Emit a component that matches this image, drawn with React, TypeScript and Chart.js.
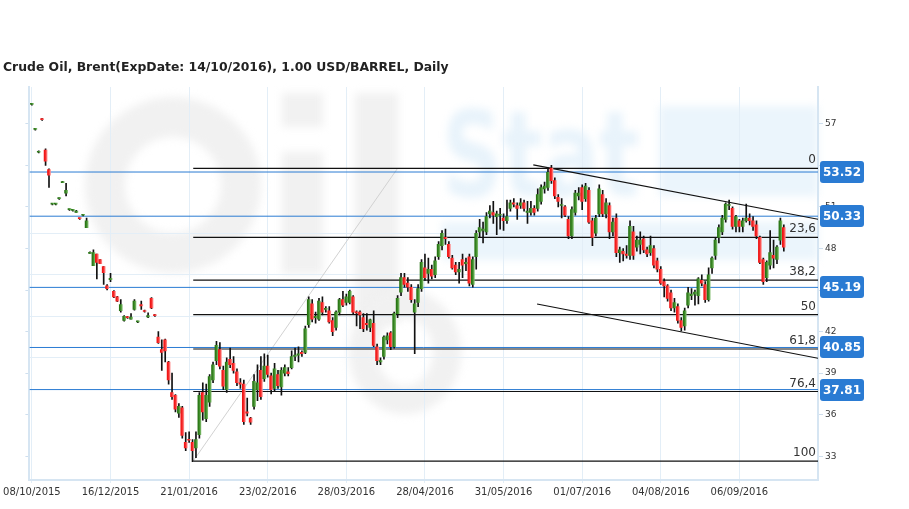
import React, { useEffect, useRef } from "react";
import { Chart, registerables } from "chart.js";

Chart.register(...registerables);

// ---- data ----
const chartTitle = "Crude Oil, Brent(ExpDate: 14/10/2016), 1.00 USD/BARREL, Daily";

const dateTickIndex = [0, 23, 46, 69, 92, 115, 138, 161, 184, 207];
const dateTickLabels = [
  "08/10/2015", "16/12/2015", "21/01/2016", "23/02/2016", "28/03/2016",
  "28/04/2016", "31/05/2016", "01/07/2016", "04/08/2016", "06/09/2016",
];

const priceTicks = [33, 36, 39, 42, 45, 48, 51, 54, 57];
const faintGridLevels = [40.1, 43.07, 46.1, 49.07];

const markedLevels = [53.52, 50.33, 45.19, 40.85, 37.81];

const fibLabels = ["0", "23,6", "38,2", "50", "61,8", "76,4", "100"];
const fibPrices = [53.79, 48.8, 45.71, 43.22, 40.74, 37.67, 32.65];
const fibStartIndex = 47.2;

const fibDiagonal = [
  { x: 47.2, y: 32.65 },
  { x: 107, y: 53.79 },
];
const upperTrend = [
  { x: 146.7, y: 54.03 },
  { x: 230, y: 50.11 },
];
const lowerTrend = [
  { x: 147.8, y: 43.99 },
  { x: 230, y: 40.07 },
];

// open, high, low, close
const candles: [number, number, number, number][] = [
  [58.4, 58.45, 58.35, 58.4],
  [56.6, 56.65, 56.55, 56.6],
  [54.95, 55.05, 54.9, 55.0],
  [57.35, 57.4, 57.25, 57.3],
  [55.1, 55.2, 54.0, 54.3],
  [53.7, 53.75, 52.4, 53.3],
  [51.2, 51.25, 51.15, 51.2],
  [51.2, 51.25, 51.15, 51.2],
  [51.6, 51.65, 51.55, 51.6],
  [52.75, 52.85, 52.75, 52.8],
  [52.0, 52.7, 51.8, 52.2],
  [50.8, 50.85, 50.75, 50.8],
  [50.75, 50.8, 50.7, 50.75],
  [50.6, 50.75, 50.6, 50.7],
  [50.2, 50.2, 50.1, 50.15],
  [50.4, 50.45, 50.35, 50.4],
  [49.5, 50.2, 49.5, 50.0],
  [47.65, 47.75, 47.65, 47.7],
  [46.75, 47.9, 46.75, 47.7],
  [47.6, 47.6, 45.8, 47.0],
  [47.2, 47.2, 46.9, 46.9],
  [46.7, 46.7, 45.4, 46.25],
  [45.3, 45.4, 45.0, 45.1],
  [45.75, 46.2, 45.6, 45.85],
  [44.9, 44.95, 44.45, 44.5],
  [44.5, 44.55, 44.15, 44.2],
  [43.5, 44.3, 43.4, 43.95],
  [42.8, 43.15, 42.75, 43.1],
  [43.05, 43.1, 42.95, 43.0],
  [42.9, 43.3, 42.9, 43.05],
  [43.6, 44.3, 43.55, 44.2],
  [42.7, 42.75, 42.65, 42.7],
  [43.95, 44.2, 43.6, 43.85],
  [43.5, 43.55, 43.4, 43.45],
  [43.05, 43.35, 43.0, 43.15],
  [44.4, 44.45, 43.65, 43.7],
  [43.2, 43.25, 43.1, 43.15],
  [41.6, 42.0, 41.15, 41.2],
  [40.7, 41.4, 39.2, 40.5],
  [41.4, 41.45, 39.8, 40.6],
  [39.8, 39.85, 38.2, 38.5],
  [37.6, 39.0, 37.1, 37.3],
  [37.4, 37.45, 36.2, 36.4],
  [36.1, 36.8, 35.8, 36.6],
  [36.5, 36.6, 34.3, 34.5],
  [34.0, 34.7, 33.4, 33.6],
  [34.2, 34.75, 34.0, 34.15],
  [34.0, 34.2, 32.6, 33.4],
  [33.6, 34.75, 32.9, 34.2],
  [34.55, 37.6, 34.3, 37.4],
  [37.6, 38.3, 35.6, 36.2],
  [35.7, 38.2, 35.5, 37.4],
  [36.9, 38.9, 36.6, 38.75],
  [38.5, 39.8, 38.3, 39.6],
  [39.9, 41.3, 39.6, 41.0],
  [40.7, 41.2, 39.3, 39.5],
  [39.2, 39.5, 37.8, 38.05],
  [37.8, 40.1, 37.6, 39.8],
  [40.0, 40.8, 39.4, 39.6],
  [39.7, 40.2, 39.0, 39.2],
  [39.1, 39.3, 38.1, 38.3],
  [38.3, 38.6, 37.9, 38.2],
  [38.2, 38.5, 35.3, 35.5],
  [36.2, 37.2, 35.9, 36.1],
  [35.75, 35.8, 35.3, 35.45],
  [36.6, 38.9, 36.4, 38.4],
  [37.8, 39.6, 37.0, 38.3],
  [39.2, 40.2, 37.1, 37.3],
  [38.6, 40.4, 38.4, 39.5],
  [39.5, 40.3, 38.7, 38.9],
  [38.8, 39.0, 37.5, 37.8],
  [37.9, 39.7, 37.7, 39.3],
  [38.9, 39.2, 37.9, 38.1],
  [38.0, 39.4, 37.4, 39.2],
  [39.0, 39.6, 38.8, 39.4],
  [39.1, 39.4, 38.8, 38.95],
  [39.4, 40.6, 39.3, 40.2],
  [40.2, 40.8, 39.9, 40.3],
  [40.3, 40.9, 39.8, 40.4],
  [40.5, 40.6, 40.2, 40.4],
  [40.5, 42.4, 40.4, 42.2],
  [42.5, 44.5, 42.3, 44.3],
  [44.0, 44.3, 42.7, 42.9],
  [43.0, 43.4, 42.6, 43.1],
  [42.9, 44.4, 42.8, 44.2],
  [44.1, 44.5, 43.2, 43.4],
  [43.6, 43.8, 43.4, 43.6],
  [43.5, 43.8, 42.6, 42.7],
  [42.8, 43.0, 41.7, 42.0],
  [42.3, 43.5, 42.1, 43.4],
  [43.4, 44.4, 43.2, 44.3],
  [44.3, 44.9, 43.8, 43.9],
  [44.1, 44.7, 43.9, 44.5],
  [44.1, 45.0, 44.0, 44.9],
  [44.5, 44.6, 43.3, 43.4],
  [43.4, 43.5, 42.4, 43.35],
  [43.4, 43.5, 42.2, 43.2],
  [43.0, 43.3, 42.0, 42.2],
  [42.6, 43.3, 42.1, 42.5],
  [42.3, 42.9, 42.0, 42.85],
  [42.6, 43.5, 40.9, 41.0],
  [40.9, 41.1, 39.6, 39.9],
  [39.8, 40.1, 39.6, 39.9],
  [40.2, 41.7, 40.0, 41.6],
  [41.4, 41.9, 41.1, 41.7],
  [41.9, 42.0, 40.7, 40.9],
  [40.9, 43.4, 40.8, 43.3],
  [43.3, 44.6, 43.0, 44.4],
  [44.85, 46.2, 44.6, 45.9],
  [45.9, 46.2, 45.2, 45.4],
  [45.5, 45.9, 44.9, 45.2],
  [45.2, 45.4, 44.1, 44.3],
  [43.4, 44.3, 40.4, 44.0],
  [44.1, 45.4, 43.8, 45.1],
  [45.1, 47.2, 44.9, 47.0],
  [46.6, 47.6, 45.7, 45.9],
  [46.2, 47.3, 45.5, 46.5],
  [46.5, 46.8, 45.8, 46.0],
  [46.1, 47.4, 45.9, 47.1],
  [47.4, 48.5, 47.2, 48.3],
  [48.2, 49.3, 47.9, 49.1],
  [48.8, 49.4, 48.3, 48.7],
  [48.3, 48.5, 47.3, 47.4],
  [47.3, 47.5, 46.5, 46.6],
  [46.8, 47.0, 46.1, 46.3],
  [46.3, 47.0, 45.5, 46.5],
  [47.2, 47.6, 45.9, 46.8],
  [46.9, 47.3, 46.4, 47.0],
  [47.4, 47.6, 45.3, 45.5],
  [45.4, 47.4, 45.2, 47.2],
  [47.4, 49.3, 46.5, 49.1],
  [49.2, 50.1, 48.8, 49.5],
  [49.3, 49.9, 48.4, 49.4],
  [49.2, 50.6, 49.0, 50.3],
  [50.5, 51.1, 50.2, 50.7],
  [50.6, 51.4, 49.8, 50.4],
  [50.3, 50.7, 49.0, 50.5],
  [50.4, 50.9, 49.4, 50.4],
  [50.2, 50.5, 49.3, 50.0],
  [50.0, 51.5, 49.8, 50.3],
  [50.9, 51.5, 50.7, 51.3],
  [51.3, 51.6, 51.0, 51.2],
  [51.1, 51.3, 50.1, 50.9],
  [51.1, 51.6, 50.9, 51.3],
  [51.3, 51.5, 50.7, 50.9],
  [50.6, 51.4, 49.8, 50.7],
  [50.6, 51.4, 50.4, 50.9],
  [50.9, 51.1, 50.4, 50.6],
  [50.9, 52.3, 50.7, 51.9],
  [51.4, 52.6, 51.2, 52.4],
  [52.3, 52.8, 52.0, 52.5],
  [52.4, 53.8, 52.2, 53.5],
  [53.8, 54.0, 52.7, 52.9],
  [52.9, 53.1, 51.6, 51.8],
  [51.7, 51.9, 51.0, 51.4],
  [51.1, 51.6, 50.2, 51.1],
  [51.0, 51.1, 50.3, 50.4],
  [50.1, 50.3, 48.7, 48.9],
  [48.9, 51.0, 48.7, 50.8],
  [50.6, 52.2, 50.4, 52.0],
  [51.8, 52.4, 51.5, 52.0],
  [52.4, 52.6, 50.8, 51.4],
  [51.6, 52.7, 51.4, 52.5],
  [52.2, 52.4, 49.8, 49.9],
  [50.0, 50.2, 48.2, 48.8],
  [49.1, 50.4, 48.9, 50.2],
  [50.5, 52.6, 50.3, 52.3],
  [51.9, 52.2, 50.3, 50.5],
  [50.5, 51.6, 50.2, 51.3],
  [51.1, 51.3, 48.7, 49.2],
  [49.2, 50.2, 48.9, 49.9],
  [50.2, 50.5, 47.4, 47.7],
  [47.7, 48.1, 47.0, 47.9],
  [47.8, 48.0, 47.1, 47.6],
  [47.6, 48.2, 47.3, 47.5],
  [47.5, 50.0, 47.2, 49.6],
  [49.2, 49.6, 47.2, 47.5],
  [48.1, 48.9, 47.8, 48.6],
  [48.3, 49.2, 47.6, 48.6],
  [48.7, 48.9, 47.7, 47.9],
  [47.9, 48.1, 47.4, 47.6],
  [47.7, 48.9, 47.5, 48.2],
  [48.0, 48.2, 46.6, 46.8],
  [47.1, 47.3, 46.3, 46.5],
  [46.5, 46.7, 45.4, 45.5],
  [45.6, 45.8, 44.5, 45.3],
  [45.3, 45.4, 44.2, 44.4],
  [44.8, 45.0, 43.5, 43.7],
  [43.7, 44.4, 43.4, 44.1],
  [43.8, 44.0, 42.6, 42.8],
  [42.8, 43.0, 42.05, 42.3],
  [42.4, 43.7, 42.1, 43.5],
  [43.9, 45.2, 43.7, 44.8],
  [44.6, 45.1, 44.3, 44.7],
  [44.7, 45.0, 43.9, 44.85],
  [44.6, 45.9, 44.0, 45.8],
  [45.7, 46.1, 45.3, 45.5],
  [45.4, 45.6, 44.1, 44.3],
  [44.3, 46.6, 44.2, 46.1],
  [46.6, 47.4, 46.2, 47.3],
  [47.5, 48.8, 47.2, 48.6],
  [48.8, 49.7, 48.4, 49.5],
  [49.2, 50.4, 49.0, 50.2],
  [50.1, 51.3, 49.9, 51.2],
  [51.1, 51.5, 50.8, 51.1],
  [50.9, 51.0, 49.4, 49.6],
  [49.6, 50.4, 49.2, 50.3],
  [50.0, 50.1, 49.2, 49.6],
  [49.6, 50.2, 49.2, 50.0],
  [50.0, 51.2, 49.9, 50.2],
  [50.2, 50.5, 49.7, 50.0],
  [50.0, 50.3, 49.3, 49.6],
  [49.7, 50.0, 48.7, 48.9],
  [48.8, 48.9, 46.9, 47.0],
  [47.2, 47.3, 45.4, 45.6],
  [45.9, 47.1, 45.6, 47.0],
  [46.8, 49.3, 46.5, 47.7],
  [47.5, 48.6, 46.6, 47.3],
  [47.2, 48.2, 46.9, 48.1],
  [48.6, 50.2, 48.3, 50.0],
  [49.5, 49.7, 47.8, 48.1],
];

// ---- axis ranges & styles ----
const X_MIN = -0.73;
const X_MAX = 230;
const Y_MIN = 31.28;
const Y_MAX = 59.66;

const FONT = '"DejaVu Sans", Verdana, sans-serif';
const GREEN_DARK = "#23700f";
const GREEN_MID = "#3c8a27";
const GREEN_LIGHT = "#7dbb6a";
const RED_DARK = "#ee1010";
const RED_MID = "#f52a2a";
const RED_LIGHT = "#ff8a8a";
const BLUE = "#2a7bd3";
const AXIS_BLUE = "#d6e5f2";
const GRID_BLUE = "#e3eef7";

const decorPlugin = {
  id: "decor",
  beforeDraw(chart: any) {
    const { ctx, width, height } = chart;
    ctx.save();
    ctx.fillStyle = "#ffffff";
    ctx.fillRect(0, 0, width, height);
    // watermark
    ctx.filter = "blur(4px)";
    ctx.strokeStyle = "#f1f1f1";
    ctx.fillStyle = "#f1f1f1";
    ctx.lineWidth = 40;
    ctx.beginPath();
    ctx.ellipse(173, 185, 68, 68, 0, 0, Math.PI * 2);
    ctx.stroke();
    ctx.fillRect(282, 93, 41, 34);
    ctx.fillRect(282, 152, 41, 122);
    ctx.fillRect(355, 93, 43, 230);
    ctx.lineWidth = 28;
    ctx.beginPath();
    ctx.ellipse(405, 352, 42, 48, 0, 0, Math.PI * 2);
    ctx.stroke();
    ctx.fillStyle = "#ebf5fc";
    ctx.fillRect(659, 106, 159, 90);
    ctx.fillRect(442, 222, 376, 38);
    ctx.save();
    ctx.translate(442, 196);
    ctx.scale(0.7, 1);
    ctx.font = 'bold 120px "DejaVu Sans"';
    ctx.fillStyle = "#e8f3fb";
    ctx.fillText("Stat", 0, 0);
    ctx.restore();
    ctx.restore();
  },
  afterDatasetsDraw(chart: any) {
    const { ctx, chartArea } = chart;
    const y = chart.scales.y;
    ctx.save();
    ctx.font = `12px ${FONT}`;
    ctx.fillStyle = "#333";
    ctx.textAlign = "right";
    ctx.textBaseline = "alphabetic";
    fibPrices.forEach((p, i) => {
      ctx.fillText(fibLabels[i], chartArea.right - 2, y.getPixelForValue(p) - 5);
    });
    ctx.restore();
  },
  afterDraw(chart: any) {
    const { ctx, chartArea } = chart;
    const y = chart.scales.y;
    ctx.save();
    // title
    ctx.font = `bold 12.4px ${FONT}`;
    ctx.fillStyle = "#222";
    ctx.textAlign = "left";
    ctx.textBaseline = "middle";
    ctx.fillText(chartTitle, 3, 68);
    // level tags
    markedLevels.forEach((v) => {
      const py = Math.round(y.getPixelForValue(v));
      const x0 = chartArea.right + 2;
      const w = 44;
      const h = 22;
      ctx.fillStyle = BLUE;
      ctx.beginPath();
      (ctx as any).roundRect(x0, py - h / 2, w, h, 3);
      ctx.fill();
      ctx.fillStyle = "#ffffff";
      ctx.font = `bold 12px ${FONT}`;
      ctx.textAlign = "center";
      ctx.textBaseline = "middle";
      ctx.fillText(v.toFixed(2), x0 + w / 2, py + 0.5);
    });
    ctx.restore();
  },
};

function lineDataset(data: { x: number; y: number }[], color: string, width: number, order: number) {
  return {
    type: "line" as const,
    data,
    borderColor: color,
    borderWidth: width,
    pointRadius: 0,
    pointHoverRadius: 0,
    fill: false,
    tension: 0,
    order,
  };
}

export default function App() {
  const ref = useRef<HTMLCanvasElement>(null);

  useEffect(() => {
    const canvas = ref.current;
    if (!canvas) return;

    const bodyData = candles.map((c, i) => ({ x: i, y: [c[0], c[3]] }));
    const wickData = candles.map((c, i) => ({ x: i, y: [c[2], c[1]] }));

    const bodyColor = (context: any) => {
      const c = candles[context.dataIndex];
      const up = c ? c[3] >= c[0] : true;
      const solid = up ? GREEN_MID : RED_MID;
      const chart = context.chart;
      const xs = chart && chart.scales && chart.scales.x;
      if (!xs || !chart.ctx || typeof context.dataIndex !== "number") return solid;
      const px = xs.getPixelForValue(context.dataIndex);
      if (!Number.isFinite(px)) return solid;
      const g = chart.ctx.createLinearGradient(px - 1.5, 0, px + 1.5, 0);
      g.addColorStop(0, up ? GREEN_DARK : RED_DARK);
      g.addColorStop(0.5, solid);
      g.addColorStop(1, up ? GREEN_LIGHT : RED_LIGHT);
      return g;
    };

    const levelSets = markedLevels.map((v) =>
      lineDataset([{ x: X_MIN, y: v }, { x: X_MAX, y: v }], BLUE, 1, 5)
    );
    const fibSets = fibPrices.map((v) =>
      lineDataset([{ x: fibStartIndex, y: v }, { x: X_MAX, y: v }], "#111", 1.2, 6)
    );

    const chart = new Chart(canvas, {
      type: "bar",
      data: {
        datasets: [
          {
            type: "bar",
            data: bodyData as any,
            backgroundColor: bodyColor,
            barThickness: 3,
            minBarLength: 1,
            grouped: false,
            borderWidth: 0,
            order: 1,
          } as any,
          {
            type: "bar",
            data: wickData as any,
            backgroundColor: "#111",
            barThickness: 1,
            minBarLength: 1,
            grouped: false,
            borderWidth: 0,
            order: 2,
          } as any,
          ...levelSets,
          ...fibSets,
          lineDataset(fibDiagonal, "#d2d2d2", 1, 7),
          lineDataset(upperTrend, "#111", 1.2, 4),
          lineDataset(lowerTrend, "#111", 1.2, 4),
        ] as any,
      },
      options: {
        responsive: false,
        animation: false,
        devicePixelRatio: 1,
        events: [],
        layout: { padding: { top: 87, left: 0, right: 0, bottom: 0 } },
        plugins: {
          legend: { display: false },
          title: { display: false },
          tooltip: { enabled: false },
        },
        scales: {
          x: {
            type: "linear",
            min: X_MIN,
            max: X_MAX,
            offset: false,
            afterBuildTicks: (scale: any) => {
              scale.ticks = dateTickIndex.map((v) => ({ value: v }));
            },
            afterFit: (scale: any) => {
              scale.height = 29;
            },
            grid: { offset: false, color: GRID_BLUE, lineWidth: 1, drawTicks: true, tickLength: 3 },
            border: { color: AXIS_BLUE, width: 2 },
            ticks: {
              autoSkip: false,
              maxRotation: 0,
              padding: 3,
              color: "#333",
              font: { family: FONT, size: 10 },
              callback: (v: any) => {
                const k = dateTickIndex.indexOf(Number(v));
                return k >= 0 ? dateTickLabels[k] : "";
              },
            },
          },
          y: {
            type: "linear",
            position: "right",
            min: Y_MIN,
            max: Y_MAX,
            afterBuildTicks: (scale: any) => {
              scale.ticks = priceTicks.map((v) => ({ value: v }));
            },
            afterFit: (scale: any) => {
              scale.width = 91;
            },
            grid: { drawOnChartArea: false, drawTicks: true, tickLength: 5, color: "#cfdfee" },
            border: { color: AXIS_BLUE, width: 2 },
            ticks: {
              padding: 2,
              color: "#333",
              font: { family: FONT, size: 9 },
            },
          },
          yl: {
            type: "linear",
            position: "left",
            min: Y_MIN,
            max: Y_MAX,
            afterBuildTicks: (scale: any) => {
              scale.ticks = priceTicks.map((v) => ({ value: v }));
            },
            afterFit: (scale: any) => {
              scale.width = 29;
            },
            grid: { drawOnChartArea: false, drawTicks: true, tickLength: 4, color: "#cfdfee" },
            border: { color: AXIS_BLUE, width: 2 },
            ticks: { display: false },
          },
          yg: {
            type: "linear",
            position: "left",
            min: Y_MIN,
            max: Y_MAX,
            afterBuildTicks: (scale: any) => {
              scale.ticks = faintGridLevels.map((v) => ({ value: v }));
            },
            afterFit: (scale: any) => {
              scale.width = 0;
            },
            grid: { drawTicks: false, color: GRID_BLUE, lineWidth: 1 },
            border: { display: false },
            ticks: { display: false },
          },
        },
      } as any,
      plugins: [decorPlugin],
    });

    return () => chart.destroy();
  }, []);

  return (
    <div style={{ position: "fixed", left: 0, top: 0, width: 909, height: 509, background: "#fff" }}>
      <canvas ref={ref} width={909} height={509} style={{ display: "block", width: 909, height: 509 }} />
    </div>
  );
}
